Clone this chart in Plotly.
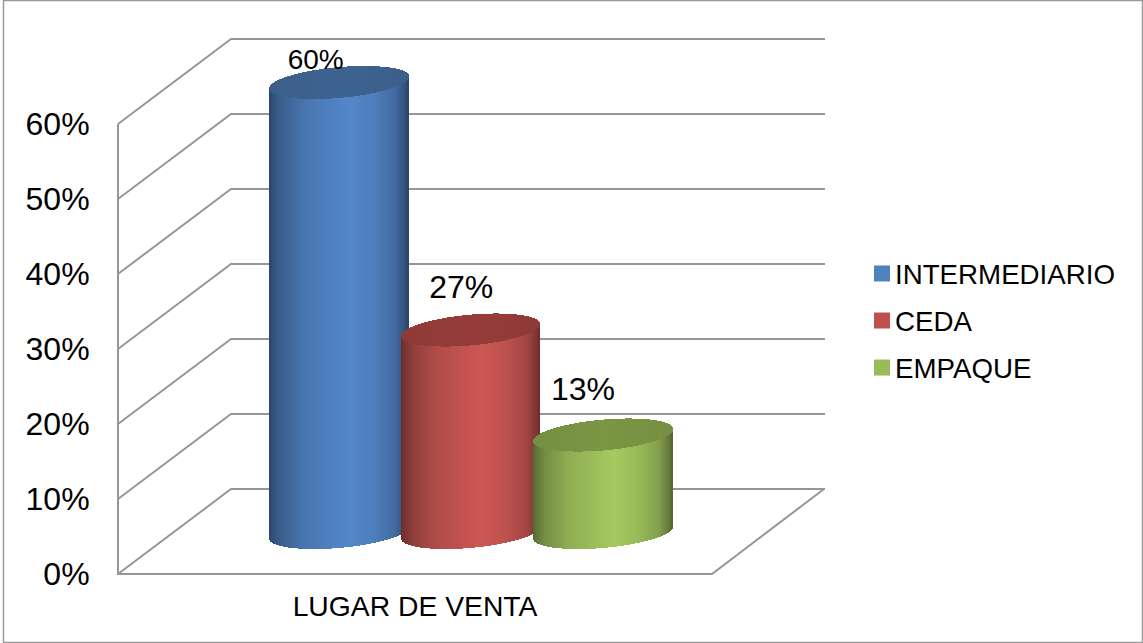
import numpy as np
import plotly.graph_objects as go

# ---- chart data ----
series_names = ["INTERMEDIARIO", "CEDA", "EMPAQUE"]
series_values = [60, 27, 13]
category_label = "LUGAR DE VENTA"
y_ticks = [0, 10, 20, 30, 40, 50, 60]
y_tick_labels = ["0%", "10%", "20%", "30%", "40%", "50%", "60%"]

# ---- styles ----
legend_colors = ["#4f81bd", "#c0504d", "#9bbb59"]
body_colors = [(84, 136, 203), (205, 88, 85), (166, 201, 96)]
cap_colors = [(60, 95, 138), (143, 58, 56), (118, 143, 66)]
centers = [338.75, 470.7, 603.0]
FONT = "Liberation Sans, Arial, sans-serif"
GRID = "#969696"

# Plot area: 1 x-unit = 1 px, 1 y-unit (one percent) = 7.5 px
PX = 7.5
half_w = 69.7
tilt, thick = 6.0, 15.4
base_level = 41.5 / PX
depth = 85 / PX

profile_t = [0, 0.03, 0.08, 0.25, 0.45, 0.58, 0.75, 0.90, 0.97, 1]
profile_v = [0.52, 0.60, 0.70, 0.86, 0.95, 1.0, 0.93, 0.80, 0.62, 0.50]


def rgb(c, f=1.0):
    return "rgb(%d,%d,%d)" % tuple(int(min(255, v * f)) for v in c)


def cylinder(value, cx, body, cap):
    xs = np.arange(cx - half_w + 0.5, cx + half_w, 1.0)
    u = (xs - cx) / half_w
    mid = tilt * u / PX
    half = thick * np.sqrt(np.clip(1 - u ** 2, 0, 1)) / PX
    shade = np.interp((u + 1) / 2, profile_t, profile_v)
    body_base = base_level + mid - half
    body_top = base_level + value + mid - half
    cap_top = base_level + value + mid + half
    cap_shade = 1.0 + 0.05 * (1 - np.abs(u))
    return go.Bar(
        x=np.concatenate([xs, xs]).tolist(),
        base=np.concatenate([body_base, body_top]).tolist(),
        y=np.concatenate([body_top - body_base, cap_top - body_top]).tolist(),
        width=1.0,
        marker=dict(
            color=[rgb(body, s) for s in shade] + [rgb(cap, s) for s in cap_shade],
            line=dict(width=0),
        ),
        showlegend=False,
        hoverinfo="skip",
    )


fig = go.Figure()
for v, cx, b, c in zip(series_values, centers, body_colors, cap_colors):
    fig.add_trace(cylinder(v, cx, b, c))

# value labels
label_dx = [-23, -9.5, -20]
label_dy = [20.5, 40, 43]
label_sizes = [28, 32, 32]
fig.add_trace(go.Scatter(
    x=[cx + d for cx, d in zip(centers, label_dx)],
    y=[base_level + v + d / PX for v, d in zip(series_values, label_dy)],
    text=["%d%%" % v for v in series_values],
    mode="text",
    textposition="middle center",
    textfont=dict(family=FONT, size=label_sizes, color="#000000"),
    showlegend=False,
    hoverinfo="skip",
))

# legend
for name, col in zip(series_names, legend_colors):
    fig.add_trace(go.Scatter(
        x=[None], y=[None], mode="markers", name=name, legendgroup=name,
        marker=dict(symbol="square", size=16, color=col),
    ))

# walls and floor
shapes = []
for t in y_ticks:
    shapes.append(dict(type="path", layer="below",
                       path=f"M 118 {t} L 231 {t + depth} L 825 {t + depth}",
                       line=dict(color=GRID, width=2)))
shapes.append(dict(type="path", layer="below",
                   path=f"M 118 {y_ticks[-1]} L 118 0 L 712 0 L 824 {depth}",
                   line=dict(color=GRID, width=2)))
# picture frame
W, H = 1143, 643
ml, mr, mt, mb = 110, 313, 34, 63
pw, ph = W - ml - mr, H - mt - mb
fx = lambda p: (p - ml) / pw
fy = lambda p: (H - mb - p) / ph
shapes.append(dict(type="rect", xref="paper", yref="paper", layer="below",
                   x0=fx(3.5), x1=fx(1142.5), y0=fy(642.5), y1=fy(0.5),
                   line=dict(color="#9a9a9a", width=1.5)))

fig.update_layout(
    width=W, height=H,
    margin=dict(l=ml, r=mr, t=mt, b=mb, pad=0, autoexpand=False),
    paper_bgcolor="white", plot_bgcolor="rgba(0,0,0,0)",
    barmode="overlay", bargap=0,
    shapes=shapes,
    showlegend=True,
    legend=dict(
        x=fx(855), xanchor="left", y=fy(321), yanchor="middle",
        font=dict(family=FONT, size=27.7, color="#000000"),
        tracegroupgap=8, itemwidth=30, bgcolor="rgba(0,0,0,0)",
    ),
    xaxis=dict(
        range=[110, 830], showgrid=False, zeroline=False, showline=False,
        tickmode="array", tickvals=[415], ticktext=[category_label],
        ticks="outside", ticklen=1, tickcolor="rgba(0,0,0,0)",
        tickfont=dict(family=FONT, size=28.3, color="#000000"),
    ),
    yaxis=dict(
        range=[-0.8, 72], showgrid=False, zeroline=False, showline=False,
        tickmode="array", tickvals=y_ticks, ticktext=y_tick_labels,
        ticks="outside", ticklen=13, tickcolor="rgba(0,0,0,0)",
        tickfont=dict(family=FONT, size=32, color="#000000"),
    ),
)

nudge = ("var nudge=function(){document.querySelectorAll('.legend .legendpoints')"
         ".forEach(function(g){g.setAttribute('transform','translate(7,0)');});};"
         "nudge();setTimeout(nudge,0);")
fig.write_html("out.html", config={"displayModeBar": False},
               post_script="document.body.style.margin='0';" + nudge)
